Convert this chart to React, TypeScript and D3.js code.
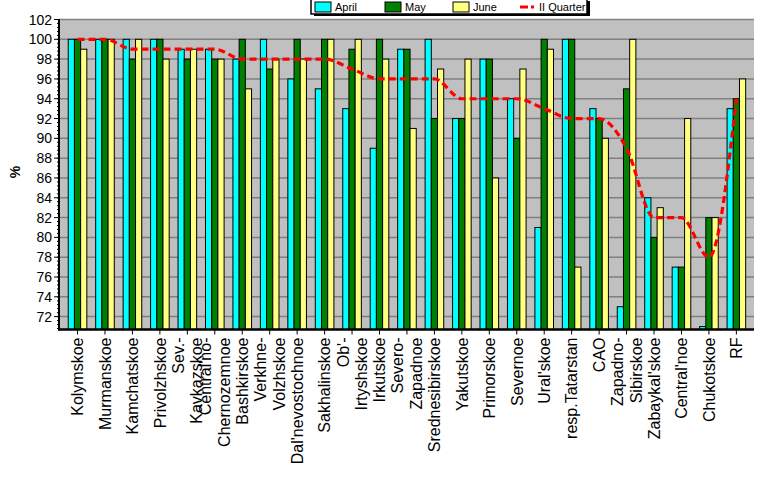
import React from "react";
import * as d3 from "d3";

const categories: string[][] = [
  ["Kolymskoe"], ["Murmanskoe"], ["Kamchatskoe"], ["Privolzhskoe"], ["Sev.-", "Kavkazskoe"],
  ["Central'no-", "Chernozemnoe"], ["Bashkirskoe"], ["Verkhne-", "Volzhskoe"], ["Dal'nevostochnoe"],
  ["Sakhalinskoe"], ["Ob'-", "Irtyshskoe"], ["Irkutskoe"], ["Severo-", "Zapadnoe"], ["Srednesibirskoe"],
  ["Yakutskoe"], ["Primorskoe"], ["Severnoe"], ["Ural'skoe"], ["resp.Tatarstan"], ["CAO"],
  ["Zapadno-", "Sibirskoe"], ["Zabaykal'skoe"], ["Central'noe"], ["Chukotskoe"], ["RF"],
];

const april = [100, 100, 100, 100, 99, 99, 98, 100, 96, 95, 93, 89, 99, 100, 92, 98, 94, 81, 100, 93, 73, 84, 77, 71, 93];
const may = [100, 100, 98, 100, 98, 98, 100, 97, 100, 100, 99, 100, 99, 92, 92, 98, 90, 100, 100, 92, 95, 80, 77, 82, 94];
const june = [99, 100, 100, 98, 99, 98, 95, 98, 98, 100, 100, 98, 91, 97, 98, 86, 97, 99, 77, 90, 100, 83, 92, 82, 96];
const quarter = [100, 100, 99, 99, 99, 99, 98, 98, 98, 98, 97, 96, 96, 96, 94, 94, 94, 93, 92, 92, 89, 82, 82, 78, 94];

const seriesNames = ["April", "May", "June"];
const seriesColors = ["#00FFFF", "#008000", "#FFFF80"];
const yTicks = [72, 74, 76, 78, 80, 82, 84, 86, 88, 90, 92, 94, 96, 98, 100, 102];

const W = 777;
const H = 479;
const plotL = 59;
const plotR = 754;
const plotT = 19;
const FONT = "'Liberation Sans', Arial, sans-serif";

export default function App() {
  const keys = categories.map((c, i) => String(i));
  const y = d3.scaleLinear().domain([70.7, 102]).range([329.5, 19.5]);
  const x = d3.scaleBand<string>().domain(keys).range([63.8, 750.1]);
  const x1 = d3.scaleBand<string>().domain(seriesNames).range([0, 18.6]);
  const groupOff = (x.bandwidth() - 18.6) / 2;
  const cx = (i: number) => (x(String(i)) as number) + x.bandwidth() / 2;
  const series = [april, may, june];
  const yBase = y(70.7);

  const line = d3
    .line<number>()
    .x((_, i) => cx(i))
    .y((d) => y(d))
    .curve(d3.curveMonotoneX);

  const minorTicks: number[] = [];
  for (let v = 70.8; v <= 102.001; v += 0.4) minorTicks.push(v);

  return (
    <svg width={W} height={H} style={{ position: "absolute", left: 0, top: 0 }} fontFamily={FONT}>
      <rect x={0} y={0} width={W} height={H} fill="#ffffff" />
      {/* plot background */}
      <rect x={plotL} y={plotT} width={plotR - plotL} height={yBase - plotT} fill="#C0C0C0" />
      {/* gridlines */}
      {yTicks.map((t) => (
        <line key={t} x1={plotL} x2={plotR} y1={y(t)} y2={y(t)} stroke="#808080" strokeWidth={1.5} />
      ))}
      {/* bars */}
      {categories.map((_, i) => (
        <g key={i} transform={`translate(${(x(String(i)) as number) + groupOff},0)`}>
          {series.map((s, k) => (
            <rect
              key={k}
              x={x1(seriesNames[k]) as number}
              y={y(s[i])}
              width={x1.bandwidth()}
              height={yBase - y(s[i])}
              fill={seriesColors[k]}
              stroke="#000"
              strokeWidth={1}
            />
          ))}
        </g>
      ))}
      {/* quarter line */}
      <path d={line(quarter) || ""} fill="none" stroke="#FF0000" strokeWidth={3.2} strokeDasharray="7,4" />
      {/* y axis */}
      <line x1={plotL} x2={plotL} y1={plotT} y2={yBase + 1} stroke="#000" strokeWidth={2} />
      {minorTicks.map((v, i) => (
        <line key={"m" + i} x1={plotL - 2} x2={plotL} y1={y(v)} y2={y(v)} stroke="#000" strokeWidth={1} />
      ))}
      {yTicks.map((t) => (
        <g key={"t" + t}>
          <line x1={plotL - 5} x2={plotL} y1={y(t)} y2={y(t)} stroke="#000" strokeWidth={1} />
          <text x={plotL - 7} y={y(t)} dy="0.36em" textAnchor="end" fontSize={14} fill="#000">
            {t}
          </text>
        </g>
      ))}
      <text
        transform={`translate(20,${172}) rotate(-90)`}
        textAnchor="middle"
        fontSize={14}
        fontWeight="bold"
        fill="#000"
      >
        %
      </text>
      {/* x axis */}
      <line x1={plotL - 1} x2={plotR} y1={yBase} y2={yBase} stroke="#000" strokeWidth={2.5} />
      {categories.map((lbl, i) => (
        <g key={"x" + i}>
          <line x1={cx(i)} x2={cx(i)} y1={yBase} y2={yBase + 5} stroke="#000" strokeWidth={1} />
          {lbl.map((ln, j) => {
            const off = lbl.length === 1 ? 0 : (j - (lbl.length - 1) / 2) * 18.5;
            return (
              <text
                key={j}
                transform={`translate(${cx(i) + off},${yBase + 8}) rotate(-90)`}
                textAnchor="end"
                dy="0.36em"
                fontSize={16}
                fill="#000"
              >
                {ln}
              </text>
            );
          })}
        </g>
      ))}
      {/* legend */}
      <g>
        <rect x={314} y={1} width={276} height={15} fill="#000" />
        <rect x={311} y={-1} width={276} height={15} fill="#fff" stroke="#000" strokeWidth={1.5} />
        {seriesNames.map((n, k) => {
          const lx = [315, 385, 453][k];
          return (
            <g key={n}>
              <rect x={lx} y={2} width={16} height={10} fill={seriesColors[k]} stroke="#000" strokeWidth={1} />
              <text x={lx + 20} y={11} fontSize={11} fill="#000">
                {n}
              </text>
            </g>
          );
        })}
        <line x1={520} x2={537} y1={7} y2={7} stroke="#FF0000" strokeWidth={3} strokeDasharray="8,3,3,6" />
        <text x={539} y={11} fontSize={11} fill="#000">
          II Quarter
        </text>
      </g>
    </svg>
  );
}
